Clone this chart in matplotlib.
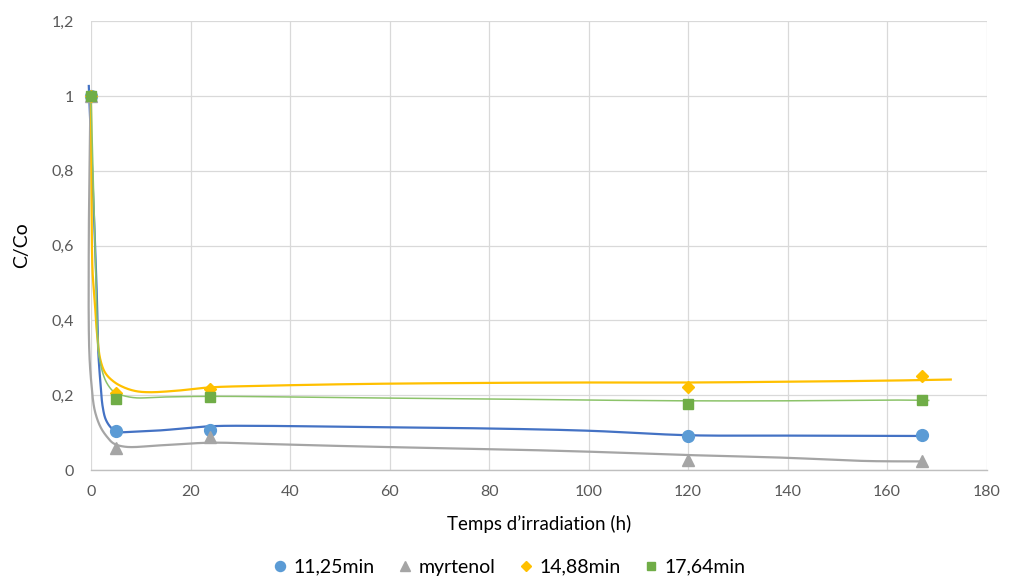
import numpy as np
import matplotlib
matplotlib.use("Agg")
import matplotlib.pyplot as plt
from matplotlib.ticker import FuncFormatter, MultipleLocator
from matplotlib.lines import Line2D

plt.rcParams['font.family'] = ['Lato', 'DejaVu Sans']

# ---- measured data (markers) ----
hours = [0, 5, 24, 120, 167]
s_1125 = [1.0, 0.103, 0.107, 0.091, 0.094]
s_myrtenol = [1.0, 0.058, 0.087, 0.027, 0.024]
s_1488 = [1.0, 0.206, 0.217, 0.221, 0.251]
s_1764 = [1.0, 0.190, 0.194, 0.177, 0.186]

series_names = ['11,25min', 'myrtenol', '14,88min', '17,64min']

# ---- fitted curves ----
c1125_x = [-0.45, 0.4, 1.2, 1.45, 1.9, 2.35, 3.0, 4.2, 5.5, 8, 14, 24, 34, 54, 80, 100, 120, 139, 167]
c1125_y = [1.03, 0.75, 0.455, 0.32, 0.232, 0.169, 0.134, 0.111, 0.102, 0.102, 0.106, 0.117, 0.118, 0.115, 0.111, 0.105, 0.093, 0.092, 0.091]

cmyr_x = [-0.1, -0.45, -0.35, 0.07, 0.74, 1.87, 3.2, 4.55, 7, 14, 24, 34, 54, 80, 100, 120, 139, 156, 167]
cmyr_y = [1.0, 0.6, 0.32, 0.232, 0.16, 0.116, 0.089, 0.071, 0.062, 0.066, 0.073, 0.070, 0.063, 0.056, 0.049, 0.040, 0.033, 0.024, 0.023]

c1488_x = [0, 0.1, 0.3, 0.74, 1.2, 1.9, 2.9, 4.6, 6.6, 9, 11.7, 17.2, 24, 34, 54, 80, 100, 120, 139, 160, 173]
c1488_y = [1.0, 0.8, 0.535, 0.455, 0.366, 0.294, 0.259, 0.236, 0.221, 0.211, 0.208, 0.212, 0.221, 0.225, 0.230, 0.233, 0.234, 0.234, 0.236, 0.239, 0.242]

c1764_x = [0, 0.4, 1.1, 1.5, 2.2, 3.2, 4.6, 6.2, 9, 14, 24, 54, 80, 100, 120, 139, 163, 168.5]
c1764_y = [1.0, 0.8, 0.455, 0.321, 0.267, 0.232, 0.209, 0.200, 0.193, 0.195, 0.197, 0.193, 0.190, 0.187, 0.185, 0.185, 0.187, 0.186]

SX, SY = 4.976, 373.9  # pixel scale for smoothing


def smooth(xs, ys, n=40, alpha=0.5):
    P = np.column_stack([np.asarray(xs, float) * SX, np.asarray(ys, float) * SY])
    P = np.vstack([2 * P[0] - P[1], P, 2 * P[-1] - P[-2]])
    out = []
    for i in range(1, len(P) - 2):
        p0, p1, p2, p3 = P[i - 1], P[i], P[i + 1], P[i + 2]
        d = lambda a, b: max(np.linalg.norm(b - a) ** alpha, 1e-6)
        t0 = 0.0
        t1 = t0 + d(p0, p1)
        t2 = t1 + d(p1, p2)
        t3 = t2 + d(p2, p3)
        t = np.linspace(t1, t2, n)[:, None]
        A1 = (t1 - t) / (t1 - t0) * p0 + (t - t0) / (t1 - t0) * p1
        A2 = (t2 - t) / (t2 - t1) * p1 + (t - t1) / (t2 - t1) * p2
        A3 = (t3 - t) / (t3 - t2) * p2 + (t - t2) / (t3 - t2) * p3
        B1 = (t2 - t) / (t2 - t0) * A1 + (t - t0) / (t2 - t0) * A2
        B2 = (t3 - t) / (t3 - t1) * A2 + (t - t1) / (t3 - t1) * A3
        C = (t2 - t) / (t2 - t1) * B1 + (t - t1) / (t2 - t1) * B2
        out.append(C if i == len(P) - 3 else C[:-1])
    C = np.vstack(out)
    return C[:, 0] / SX, C[:, 1] / SY


W, H = 1016, 576
fig = plt.figure(figsize=(W / 100, H / 100), dpi=100)
ax = fig.add_axes([91 / W, 1 - 470 / H, (986.7 - 91) / W, (470 - 21.3) / H])

grid_c = '#D9D9D9'
ax.set_xlim(0, 180)
ax.set_ylim(0, 1.2)
ax.xaxis.set_major_locator(MultipleLocator(20))
ax.yaxis.set_major_locator(MultipleLocator(0.2))
ax.grid(True, color=grid_c, lw=0.9, zorder=0)
ax.set_axisbelow(True)
for s in ['top', 'right', 'left']:
    ax.spines[s].set_visible(False)
ax.spines['bottom'].set_color('#BFBFBF')
ax.spines['bottom'].set_linewidth(1.0)
ax.tick_params(length=0, labelsize=11.5, labelcolor='#595959')
ax.tick_params(axis='y', pad=12)
ax.tick_params(axis='x', pad=11)


def fmt(v, pos):
    s = ('%.1f' % v).rstrip('0').rstrip('.')
    return s.replace('.', ',')


ax.yaxis.set_major_formatter(FuncFormatter(lambda v, p: fmt(v, p)))
ax.xaxis.set_major_formatter(FuncFormatter(lambda v, p: '%d' % round(v)))

# curves
curves = [
    (c1125_x, c1125_y, '#4472C4', 1.6),
    (cmyr_x, cmyr_y, '#A5A5A5', 1.6),
    (c1488_x, c1488_y, '#FFC000', 1.6),
    (c1764_x, c1764_y, '#8CC36A', 1.1),
]
for cx, cy, col, lw in curves:
    xx, yy = smooth(cx, cy)
    ax.plot(xx, yy, color=col, lw=lw, zorder=3, clip_on=False, solid_capstyle='butt')

markers = [
    (s_1125, 'o', '#5B9BD5', 8.5),
    (s_myrtenol, '^', '#A5A5A5', 8.5),
    (s_1488, 'D', '#FFC000', 6.5),
    (s_1764, 's', '#70AD47', 7.5),
]
handles = []
for (vals, m, col, ms), name in zip(markers, series_names):
    ax.plot(hours, vals, ls='none', marker=m, color=col, ms=ms, mec=col, zorder=4, clip_on=False)
    handles.append(Line2D([], [], ls='none', marker=m, color=col, ms=ms * 0.85, mec=col, label=name))

fig.text(22 / W, 1 - 245.6 / H, 'C/Co', rotation=90, ha='center', va='center', fontsize=14, color='#000000')
fig.text(538.9 / W, 1 - 524 / H, 'Temps d’irradiation (h)', ha='center', va='center', fontsize=13.5, color='#000000')

leg = fig.legend(handles=handles, loc='center', bbox_to_anchor=(509 / W, 1 - 567 / H), ncol=4,
                 frameon=False, fontsize=14, handlelength=0.8, handletextpad=0.3, columnspacing=1.15)
for t in leg.get_texts():
    t.set_color('#000000')

fig.savefig('out.png', dpi=100)
